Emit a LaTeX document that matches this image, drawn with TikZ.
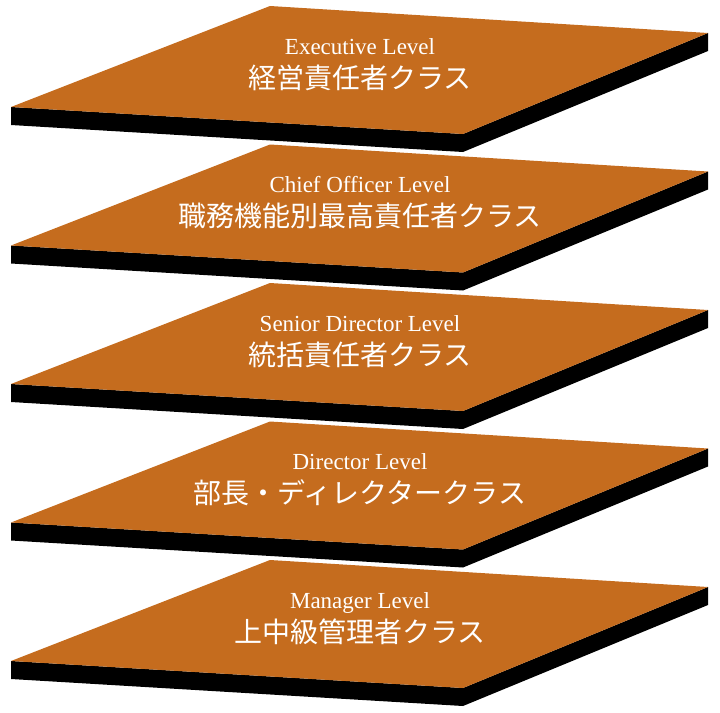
\documentclass[tikz,border=0pt]{standalone}
\usepackage{fontspec}
\setmainfont{Liberation Serif}
\newfontfamily\jpfont{Noto Sans CJK JP}
\usetikzlibrary{positioning}
\definecolor{plateorange}{RGB}{197,108,30}

\begin{document}
\begin{tikzpicture}[x=1pt,y=-1pt,
	plate/.style={fill=plateorange},
	side/.style={fill=black},
	en/.style={text=white,inner sep=0pt,text height=15pt,text depth=4pt,font=\fontsize{23}{26}\selectfont},
	jp/.style={text=white,inner sep=0pt,text height=24pt,text depth=4pt,font=\jpfont\fontsize{28}{32}\selectfont}]
	\useasboundingbox (0,0) rectangle (720,712);
	\foreach \en/\jp [count=\i from 0] in {Executive Level/経営責任者クラス,
			Chief Officer Level/職務機能別最高責任者クラス,
			Senior Director Level/統括責任者クラス,
			Director Level/部長・ディレクタークラス,
			Manager Level/上中級管理者クラス}{
		\begin{scope}[shift={(0,138.5*\i)}]
			\fill[side] (11,107) -- (463,134) -- (708,33) -- (708,51) -- (463,152) -- (11,125) -- cycle;
			\fill[plate] (270,6) -- (708,33) -- (463,134) -- (11,107) -- cycle;
			\node [en,anchor=base] (en\i) at (360,54) {\en};
			\node [jp,below=6pt of en\i] (jp\i) {\jp};
		\end{scope}
	}
\end{tikzpicture}
\end{document}
